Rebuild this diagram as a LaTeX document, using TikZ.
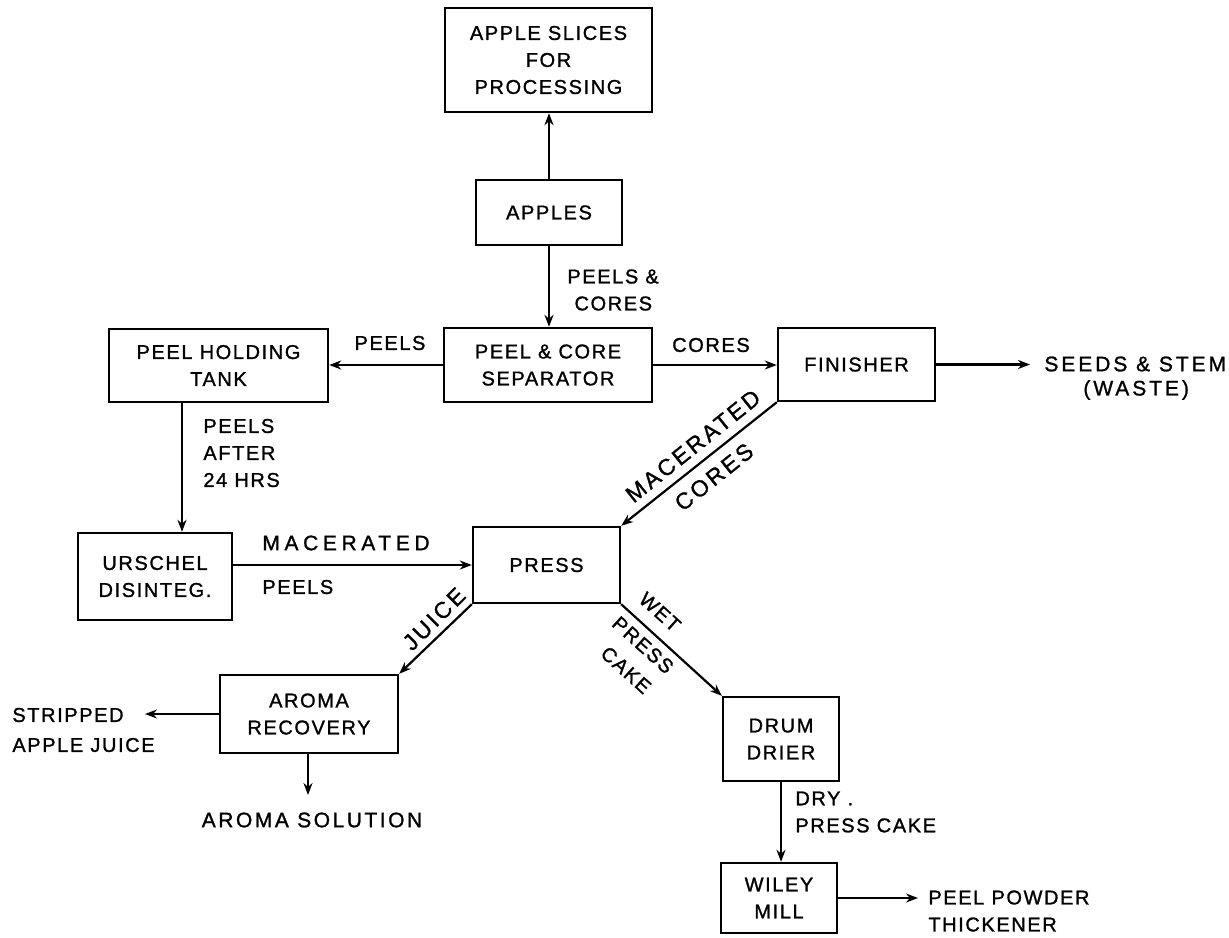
\documentclass[tikz,border=0pt]{standalone}
\usepackage{fontspec}
\setmainfont{Liberation Sans}[LetterSpace=8, FakeBold=1.2]
\usetikzlibrary{arrows.meta,calc}
\begin{document}
\begin{tikzpicture}[x=0.5pt,y=-0.5pt,
  box/.style 2 args={draw, line width=1.2pt, align=center, inner sep=0pt,
    minimum width=#1*0.5pt, minimum height=#2*0.5pt,
    font=\fontsize{10}{13.5}\selectfont},
  lbl/.style={inner sep=0pt, font=\fontsize{10}{13.5}\selectfont},
  big/.style={font=\fontsize{11.5}{14}\selectfont\addfontfeature{LetterSpace=12}},
  arr/.style={line width=1.1pt, -{Stealth[length=6pt,width=4.5pt]}}]
\useasboundingbox (0,0) rectangle (1229,937);

% boxes
\node[box={207}{104}] (slices) at (548.5,60) {APPLE SLICES\\FOR\\PROCESSING};
\node[box={146}{65}] (apples) at (549,212.5) {APPLES};
\node[box={208}{74}] (sep) at (548,365) {PEEL \& CORE\\SEPARATOR};
\node[box={219}{73}] (hold) at (218.5,365.5) {PEEL HOLDING\\TANK};
\node[box={157}{73}] (fin) at (856.5,364.5) {FINISHER};
\node[box={154}{87}] (ursch) at (155,576.5) {URSCHEL\\DISINTEG.};
\node[box={147}{76}] (press) at (546.5,565) {PRESS};
\node[box={178}{78}] (aroma) at (309,714) {AROMA\\RECOVERY};
\node[box={116}{84}] (drum) at (781,739) {DRUM\\DRIER};
\node[box={116}{70}] (wiley) at (779,898) {WILEY\\MILL};

% free ends
\coordinate (seedsend) at (1030,364.5);
\coordinate (stripend) at (145,714);
\coordinate (solend) at (308,795);
\coordinate (powend) at (918,898);

% connectors
\draw[arr] (apples.north) -- (apples.north |- slices.south);
\draw[arr] (apples.south) -- (apples.south |- sep.north);
\draw[arr] (sep.west) -- (sep.west -| hold.east);
\draw[arr] (sep.east) -- (sep.east -| fin.west);
\draw[arr] (fin.east) -- (seedsend);
\draw[arr] ([xshift=-18.25pt]hold.south) -- ([xshift=-18.25pt]hold.south |- ursch.north);
\draw[arr] (press.west -| ursch.east) -- (press.west);
\draw[arr] (fin.south west) -- (press.north east);
\draw[arr] (press.south west) -- (aroma.north east);
\draw[arr] (press.south east) -- (drum.north west);
\draw[arr] (aroma.west) -- (stripend);
\draw[arr] (aroma.south -| solend) -- (solend);
\draw[arr] (drum.south) -- (drum.south |- wiley.north);
\draw[arr] (wiley.east) -- (powend);

% labels
\node[lbl, align=left, anchor=west] (lpc) at (567,290) {PEELS \&\\\ CORES};
\node[lbl] (lpeels) at (390,343) {PEELS};
\node[lbl] (lcores) at (711,345) {CORES};
\node[lbl, anchor=west, font=\fontsize{10.5}{13.5}\selectfont\addfontfeature{LetterSpace=14}] (lseeds) at (1044,364) {SEEDS \& STEM};
\node[lbl, anchor=west, font=\fontsize{10.5}{13.5}\selectfont\addfontfeature{LetterSpace=14}] (lwaste) at (1083,390) {(WASTE)};
\node[lbl, align=left, anchor=west] (lafter) at (203,453) {PEELS\\AFTER\\24 HRS};
\node[lbl, anchor=west, font=\fontsize{10.5}{13.5}\selectfont\addfontfeature{LetterSpace=22}] (lmacp) at (262,543) {MACERATED};
\node[lbl, anchor=west] (lpeels2) at (262,587) {PEELS};
\node[lbl, big, rotate=38.7] (lmacc) at (693,446) {MACERATED};
\node[lbl, big, rotate=38.7] (lcores2) at (714,477) {CORES};
\node[lbl, big, rotate=45] (ljuice) at (434,619) {JUICE};
\node[lbl, rotate=-42] (lwet) at (660,612) {WET};
\node[lbl, rotate=-42] (lpress) at (643,645) {PRESS};
\node[lbl, rotate=-42] (lcake) at (626,670) {CAKE};
\node[lbl, anchor=west] (lstrip) at (12,715) {STRIPPED};
\node[lbl, anchor=west] (lapj) at (12,745) {APPLE JUICE};
\node[lbl, font=\fontsize{10.5}{13.5}\selectfont\addfontfeature{LetterSpace=12}] (lsol) at (312,820) {AROMA SOLUTION};
\node[lbl, align=left, anchor=west] (ldry) at (795,812) {DRY .\\PRESS CAKE};
\node[lbl, align=left, anchor=west] (lpow) at (928,911) {PEEL POWDER\\THICKENER};
\end{tikzpicture}
\end{document}
